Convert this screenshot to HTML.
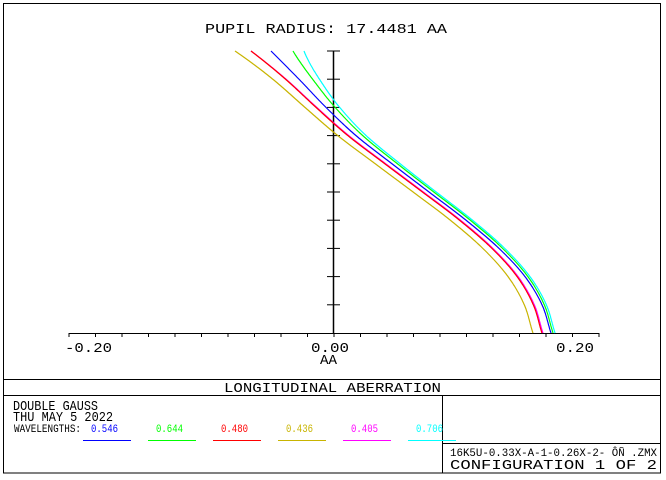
<!DOCTYPE html>
<html><head><meta charset="utf-8"><style>
html,body{margin:0;padding:0;background:#fff;}
svg{display:block;}
text{font-family:"Liberation Mono","DejaVu Sans Mono",monospace;fill:#000;}
</style></head><body>
<svg id="s" width="666" height="480" viewBox="0 0 666 480" xmlns="http://www.w3.org/2000/svg">
<rect x="3.5" y="3.5" width="657" height="469.5" fill="none" stroke="#000" stroke-width="1"/>
<line x1="3" y1="379.5" x2="661" y2="379.5" stroke="#000"/>
<line x1="3" y1="395.5" x2="661" y2="395.5" stroke="#000"/>
<line x1="442.5" y1="395" x2="442.5" y2="473" stroke="#000"/>
<line x1="442" y1="443.5" x2="661" y2="443.5" stroke="#000"/>
<text x="205" y="33" font-size="14" textLength="242" lengthAdjust="spacingAndGlyphs">PUPIL RADIUS: 17.4481  AA</text>
<g id="axes" stroke="#000" stroke-width="1"></g>
<text x="65" y="352" font-size="14" textLength="47" lengthAdjust="spacingAndGlyphs">-0.20</text>
<text x="311" y="352" font-size="14" textLength="38" lengthAdjust="spacingAndGlyphs">0.00</text>
<text x="320" y="364" font-size="14" textLength="17" lengthAdjust="spacingAndGlyphs">AA</text>
<text x="556" y="352" font-size="14" textLength="38" lengthAdjust="spacingAndGlyphs">0.20</text>
<g id="curves" fill="none" stroke-width="1.2"></g>
<text x="224" y="392" font-size="14" textLength="217" lengthAdjust="spacingAndGlyphs">LONGITUDINAL ABERRATION</text>
<text x="13" y="410" font-size="14" textLength="85" lengthAdjust="spacingAndGlyphs">DOUBLE GAUSS</text>
<text x="13" y="421" font-size="14" textLength="100" lengthAdjust="spacingAndGlyphs">THU MAY 5 2022</text>
<text x="14" y="432" font-size="11" textLength="67" lengthAdjust="spacingAndGlyphs">WAVELENGTHS:</text>
<g id="legend"></g>
<text x="450" y="456" font-size="11" textLength="207" lengthAdjust="spacingAndGlyphs">16K5U-0.33X-A-1-0.26X-2- ÔÑ   .ZMX</text>
<text x="450" y="469" font-size="14" textLength="207" lengthAdjust="spacingAndGlyphs">CONFIGURATION 1 OF 2</text>
</svg>
<script>
var NS="http://www.w3.org/2000/svg";
function el(p,t,a){var e=document.createElementNS(NS,t);for(var k in a)e.setAttribute(k,a[k]);p.appendChild(e);return e;}
var ax=document.getElementById('axes');
el(ax,'line',{x1:69,y1:333.5,x2:599,y2:333.5});
el(ax,'line',{x1:333.5,y1:51,x2:333.5,y2:333,'stroke-width':1.5});
for(var i=0;i<=20;i++){var x=69+i*26.5;el(ax,'line',{x1:x,y1:333,x2:x,y2:337});}
for(var j=0;j<10;j++){var y=51+j*28.2;el(ax,'line',{x1:327,y1:y,x2:340,y2:y});}
var V=[271,299,326,356,392,429,466,499,525,542,551];
function bx(y){var u=(y-51)/28.2;var i=Math.min(Math.floor(u),9);var t=u-i;
var p0=V[Math.max(i-1,0)],p1=V[i],p2=V[i+1],p3=V[Math.min(i+2,10)];
if(i==0)p0=2*V[0]-V[1];if(i+2>10)p3=2*V[10]-V[9]+1;
return 0.5*((2*p1)+(-p0+p2)*t+(2*p0-5*p1+4*p2-p3)*t*t+(-p0+3*p1-3*p2+p3)*t*t*t);}
var C=[["#00ffff",33,6,4],["#00ff00",22,4,2],["#0000ff",0,0,0],["#ff00ff",-20,-5,-8],["#ff0000",-20,-6,-9],["#c8b400",-36,-15,-18]];
function ss(a){a=Math.min(Math.max(a,0),1);return a*a*(3-2*a);}
var cg=document.getElementById('curves');
C.forEach(function(c){var d="";for(var y=51;y<=333;y+=1){var o=c[2]+(c[1]-c[2])*Math.exp(-(y-51)/45)+(c[3]-c[2])*ss((y-200)/133);
var x=bx(y)+o;d+=(y==51?"M":"L")+x.toFixed(1)+","+y;}el(cg,'path',{d:d,stroke:c[0]});});
var L=[["0.546","#0000ff"],["0.644","#00ff00"],["0.480","#ff0000"],["0.436","#c8b400"],["0.405","#ff00ff"],["0.706","#00ffff"]];
var lg=document.getElementById('legend');
L.forEach(function(l,i){var x0=83+i*65;var t=el(lg,'text',{x:x0+8,y:432,'font-size':11,textLength:27,lengthAdjust:'spacingAndGlyphs'});t.style.fill=l[1];t.textContent=l[0];
el(lg,'line',{x1:x0,y1:440.5,x2:x0+48,y2:440.5,stroke:l[1]});});
</script>
</body></html>
